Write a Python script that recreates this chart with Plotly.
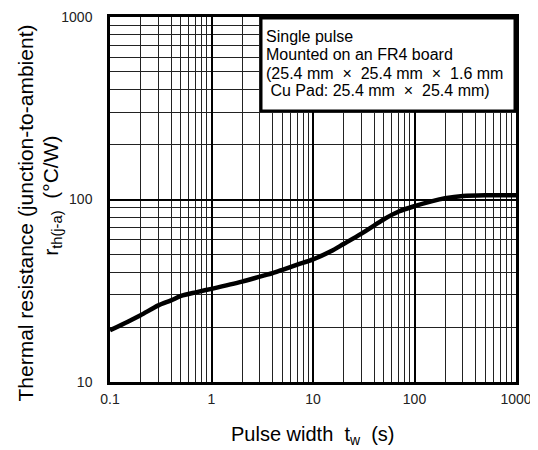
import plotly.graph_objects as go

pulse_width = [0.1, 0.15, 0.2, 0.3, 0.4, 0.5, 0.7, 1, 2, 3, 4, 5, 7, 10, 15, 20, 30, 40, 50, 70, 100, 150, 200, 300, 500, 700, 1000]
rth = [19.2, 21.4, 23.2, 26.3, 28.0, 29.6, 31.0, 32.4, 35.5, 37.8, 39.5, 41.2, 44.0, 47.0, 52.0, 57.0, 65.0, 72.0, 78.0, 86.0, 92.0, 98.0, 101.5, 104.5, 105.5, 105.5, 105.5]

x_ticks = [0.1, 1, 10, 100, 1000]
x_tick_labels = ["0.1", "1", "10", "100", "1000"]
y_ticks = [10, 100, 1000]
y_tick_labels = ["10", "100", "1000"]

legend_lines = [
    "Single pulse",
    "Mounted on an FR4 board",
    "(25.4 mm  \u00d7  25.4 mm  \u00d7  1.6 mm",
    "\u00a0Cu Pad: 25.4 mm  \u00d7  25.4 mm)",
]
legend_line_y = [0.946, 0.896, 0.846, 0.798]

FONT = "Liberation Sans, Arial, sans-serif"

fig = go.Figure()
fig.add_trace(go.Scatter(
    x=pulse_width, y=rth, mode="lines",
    line=dict(color="black", width=4.5, shape="spline", smoothing=0.8),
    showlegend=False, hoverinfo="skip",
))

axis_common = dict(
    type="log", automargin=False,
    showgrid=True, gridcolor="black", gridwidth=2,
    showline=True, linecolor="black", linewidth=2.5, mirror=True,
    ticks="", zeroline=False,
    tickfont=dict(family=FONT, size=14, color="#222"),
    minor=dict(dtick="D1", showgrid=True, gridcolor="#222", gridwidth=1, ticks=""),
)

fig.update_xaxes(**axis_common, range=[-1, 3], tickvals=x_ticks, ticktext=x_tick_labels, ticklabelstandoff=2)
fig.update_yaxes(**axis_common, range=[1, 3], tickvals=y_ticks, ticktext=y_tick_labels, ticklabelstandoff=12)

# legend box
fig.add_annotation(
    xref="paper", yref="paper", x=1, y=1, xanchor="right", yanchor="top",
    text=" ", showarrow=False,
    bgcolor="white", bordercolor="black", borderwidth=2.5, borderpad=0,
    width=251, height=90,
)
for line, ly in zip(legend_lines, legend_line_y):
    fig.add_annotation(
        xref="paper", yref="paper", x=0.379, y=ly, xanchor="left", yanchor="middle",
        text=line, showarrow=False, align="left",
        font=dict(family=FONT, size=16, color="black"),
    )

# axis titles
fig.add_annotation(
    xref="paper", yref="paper", x=0.5, y=-0.108, xanchor="center", yanchor="top",
    text="Pulse width  t<sub>w</sub>  (s)", showarrow=False,
    font=dict(family=FONT, size=20, color="black"),
)
fig.add_annotation(
    xref="paper", yref="paper", x=-0.209, y=0.462, xanchor="center", yanchor="middle",
    text="Thermal resistance (junction-to-ambient)", showarrow=False, textangle=-90,
    font=dict(family=FONT, size=21, color="black"),
)
fig.add_annotation(
    xref="paper", yref="paper", x=-0.143, y=0.51, xanchor="center", yanchor="middle",
    text="r<sub>th(j-a)</sub>  (\u00b0C/W)", showarrow=False, textangle=-90,
    font=dict(family=FONT, size=21, color="black"),
)

fig.update_layout(
    width=530, height=442,
    margin=dict(l=102, r=22, t=9, b=68),
    plot_bgcolor="white", paper_bgcolor="white",
    font=dict(family=FONT, color="black"),
)

fig.write_html("out.html")
